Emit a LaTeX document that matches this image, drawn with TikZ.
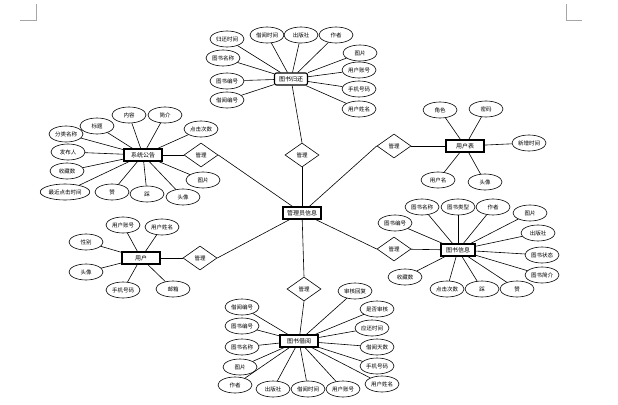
\documentclass[tikz,border=0pt]{standalone}
\usepackage{fontspec}
\newfontfamily\cjk{Noto Sans CJK SC}
\usetikzlibrary{shapes.geometric}
\tikzset{
  attr/.style={ellipse,draw,fill=white,line width=0.6pt,minimum width=34pt,minimum height=16pt,inner sep=1pt,font=\cjk\fontsize{5.5}{6}\selectfont},
  ent/.style={rectangle,draw,fill=white,line width=1.1pt,minimum width=38pt,minimum height=12pt,inner sep=1pt,font=\cjk\fontsize{6}{7}\selectfont},
  rel/.style={diamond,draw,fill=white,line width=0.6pt,minimum width=34pt,minimum height=24pt,inner sep=0pt,font=\cjk\fontsize{5.5}{6}\selectfont},
  lk/.style={line width=0.6pt},
  mark/.style={draw=gray!70,line width=0.5pt}
}
\begin{document}
\begin{tikzpicture}[x=1pt,y=-1pt]
\useasboundingbox (0,0) rectangle (618,404);
% page corner marks
\draw[gray!70,line width=0.5pt] (36,4) -- (36,20) -- (20,20);
\draw[gray!70,line width=0.5pt] (566,4) -- (566,20) -- (582,20);

% center
\node[ent] (adm) at (302,213) {管理员信息};
% diamonds
\node[rel] (d1) at (302,155) {管理};
\node[rel] (d2) at (394,146) {管理};
\node[rel] (d3) at (394,249) {管理};
\node[rel] (d4) at (304,289) {管理};
\node[rel] (d5) at (201,155) {管理};
\node[rel] (d6) at (200,258) {管理};

% entities
\node[ent,rounded corners=2pt,minimum width=33pt] (ret) at (291,79) {图书归还};
\node[ent] (usr2) at (465,146) {用户表};
\node[ent,minimum width=34pt] (book) at (458,250) {图书信息};
\node[ent] (bor) at (299,341) {图书借阅};
\node[ent] (news) at (143,155) {系统公告};
\node[ent] (usr) at (141,258) {用户};

\draw[lk] (adm) -- (d1.south);
\draw[lk] (d1.north) -- (ret);
\draw[lk] (adm) -- (d2.west);
\draw[lk] (d2) -- (usr2);
\draw[lk] (adm) -- (d3.west);
\draw[lk] (d3) -- (book);
\draw[lk] (adm) -- (d4.north);
\draw[lk] (d4.south) -- (bor);
\draw[lk] (adm) -- (d5.east);
\draw[lk] (d5) -- (news);
\draw[lk] (adm) -- (d6.east);
\draw[lk] (d6) -- (usr);

% attributes of 图书归还
\foreach \n/\x/\y/\t in {r1/227/39/归还时间, r2/267/35/借阅时间, r3/301/35/出版社, r4/336/35/作者, r5/360/53/图片, r6/359/70/用户账号, r7/359/89/手机号码, r8/359/109/用户姓名, r9/223/58/图书名称, r10/227/81/图书编号, r11/227/100/借阅编号}
  {\node[attr] (\n) at (\x,\y) {\t}; \draw[lk] (ret) -- (\n);}

% attributes of 系统公告
\foreach \n/\x/\y/\t in {n1/97/126/标题, n2/129/115/内容, n3/165/115/简介, n4/201/129/点击次数, n5/66/134/分类名称, n6/68/152/发布人, n7/67/171/收藏数, n8/65/192/最近点击时间, n9/112/192/赞, n10/147/194/踩, n11/183/197/头像, n12/203/180/图片}
  {\node[attr] (\n) at (\x,\y) {\t}; \draw[lk] (news) -- (\n);}

% attributes of 用户
\foreach \n/\x/\y/\t in {u1/123/225/用户账号, u2/162/227/用户姓名, u3/86/242/性别, u4/86/272/头像, u5/123/290/手机号码, u6/173/289/邮箱}
  {\node[attr] (\n) at (\x,\y) {\t}; \draw[lk] (usr) -- (\n);}

% attributes of 图书借阅
\foreach \n/\x/\y/\t in {b1/242/307/借阅编号, b2/242/326/图书编号, b3/242/347/图书名称, b4/240/367/图片, b5/235/385/作者, b6/273/389/出版社, b7/308/389/借阅时间, b8/343/389/用户账号, b9/382/384/用户姓名, b10/377/366/手机号码, b11/377/347/借阅天数, b12/372/328/应还时间, b13/377/309/是否审核, b14/355/291/审核回复}
  {\node[attr] (\n) at (\x,\y) {\t}; \draw[lk] (bor) -- (\n);}

% attributes of 用户表
\foreach \n/\x/\y/\t in {s1/440/110/角色, s2/486/109/密码, s3/529/143/新增时间, s4/438/180/用户名, s5/485/182/头像}
  {\node[attr] (\n) at (\x,\y) {\t}; \draw[lk] (usr2) -- (\n);}

% attributes of 图书信息
\foreach \n/\x/\y/\t in {g1/395/223/图书编号, g2/422/207/图书名称, g3/458/207/图书类型, g4/493/207/作者, g5/530/213/图片, g6/538/233/出版社, g7/542/255/图书状态, g8/542/275/图书简介, g9/405/277/收藏数, g10/447/289/点击次数, g11/482/289/踩, g12/517/289/赞}
  {\node[attr] (\n) at (\x,\y) {\t}; \draw[lk] (book) -- (\n);}
\end{tikzpicture}
\end{document}
